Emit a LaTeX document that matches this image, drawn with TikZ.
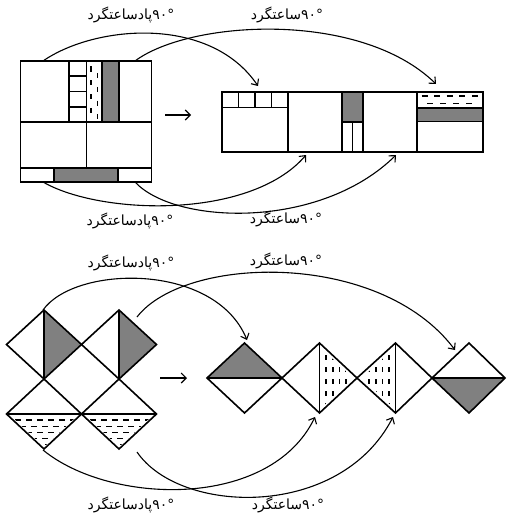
\documentclass[tikz,border=0pt]{standalone}
\usepackage{fontspec}
\usetikzlibrary{arrows.meta}
\newfontfamily\arabicfont[Script=Arabic]{DejaVu Sans}
\newfontfamily\numfont{DejaVu Sans}
\definecolor{greyfill}{RGB}{128,128,128}
\tikzset{
  fig/.style={line width=1.6pt, line join=miter},
  rot/.style={line width=1.1pt, -{Straight Barb[length=5pt,width=9pt,line width=1.1pt]}},
  maparrow/.style={line width=1.1pt, -{Straight Barb[length=5pt,width=10pt,line width=1.1pt]}},
  lbl/.style={inner sep=0pt, font=\fontsize{14}{16}\selectfont},
  vdash/.style={line width=1.6pt, dash pattern=on 5pt off 7pt},
  hdash/.style={line width=1.6pt, dash pattern=on 6pt off 5pt},
}
\begin{document}
\begin{tikzpicture}[x=1pt,y=-1pt]
\useasboundingbox (0,0) rectangle (506,519);

% ================= TOP SECTION =================
% left square
\fill[greyfill] (102,61) rectangle (119,122);
\fill[greyfill] (54,168) rectangle (118,182);
\draw[fig] (20.5,61) rectangle (151.5,182);
\draw[fig] (20.5,122) -- (151.5,122);
\draw[fig] (20.5,168) -- (151.5,168);
\foreach \x in {69,86.5,102,119} \draw[fig] (\x,61) -- (\x,122);
\foreach \y in {76,91.5,107} \draw[fig] (69,\y) -- (86.5,\y);
\draw[fig] (86.5,122) -- (86.5,168);
\draw[fig] (54,168) -- (54,182);
\draw[fig] (118,168) -- (118,182);
\draw[vdash, dash pattern=on 5pt off 8.8pt] (91,66.5) -- (91,118);
\draw[vdash, dash pattern=on 5pt off 8.8pt] (97.5,73) -- (97.5,119);

% right strip
\fill[greyfill] (342,92) rectangle (363,122);
\fill[greyfill] (417,108) rectangle (483,121.5);
\draw[fig] (222,92) rectangle (483,152);
\foreach \x in {288,342,363,417} \draw[fig] (\x,92) -- (\x,152);
\draw[fig] (222,107.5) -- (288,107.5);
\foreach \x in {238.5,255,271.5} \draw[fig] (\x,92) -- (\x,107.5);
\draw[fig] (342,122) -- (363,122);
\draw[fig] (352.5,122) -- (352.5,152);
\draw[fig] (417,108) -- (483,108);
\draw[fig] (417,121.5) -- (483,121.5);
\draw[hdash, dash pattern=on 6pt off 6.6pt] (421.5,96) -- (478,96);
\draw[hdash, dash pattern=on 6pt off 7pt] (427,103.3) -- (472,103.3);

% map arrow
\coordinate (ma1) at (165,115);
\coordinate (mb1) at (191,115);
\draw[maparrow] (ma1) -- (mb1);

% rotation arcs
\coordinate (s1) at (43,61);   \coordinate (e1) at (258,86);
\coordinate (s2) at (135,61);  \coordinate (e2) at (436,84);
\coordinate (s3) at (43,182);  \coordinate (e3) at (306,155);
\coordinate (s4) at (135,182); \coordinate (e4) at (396,155);
\draw[rot] (s1) .. controls (95,25) and (210,15) .. (e1);
\draw[rot] (s2) .. controls (190,20) and (360,10) .. (e2);
\draw[rot] (s3) .. controls (100,215) and (250,220) .. (e3);
\draw[rot] (s4) .. controls (175,225) and (320,230) .. (e4);

\node[lbl] (t1) at (131,15) {\arabicfont پادساعتگرد\numfont ۹۰°};
\node[lbl] (t2) at (287,15) {\arabicfont ساعتگرد\numfont ۹۰°};
\node[lbl] (t3) at (130,221) {\arabicfont پادساعتگرد\numfont ۹۰°};
\node[lbl] (t4) at (286,219) {\arabicfont ساعتگرد\numfont ۹۰°};

% ================= BOTTOM SECTION =================
% left 2x2 diamonds
\fill[greyfill] (44,310) -- (81.5,344.5) -- (44,379) -- cycle;
\fill[greyfill] (119,310) -- (156.5,344.5) -- (119,379) -- cycle;
\foreach \cx in {44,119}{
  \begin{scope}
    \clip (\cx-33,416) -- (\cx+33,416) -- (\cx,447) -- cycle;
    \draw[hdash] (\cx-40,420) -- (\cx+40,420);
    \draw[hdash, dash phase=6pt] (\cx-40,426.5) -- (\cx+40,426.5);
    \draw[hdash] (\cx-40,432.5) -- (\cx+40,432.5);
    \draw[hdash, dash phase=6pt] (\cx-40,438.5) -- (\cx+40,438.5);
    \draw[hdash, dash phase=3pt] (\cx-40,444.5) -- (\cx+40,444.5);
  \end{scope}
}
\foreach \cx in {44,119}{
  \draw[fig] (\cx-37.5,344.5) -- (\cx,310) -- (\cx+37.5,344.5) -- (\cx,379) -- cycle;
  \draw[fig] (\cx,310) -- (\cx,379);
  \draw[fig] (\cx-37.5,414) -- (\cx,379) -- (\cx+37.5,414) -- (\cx,449) -- cycle;
  \draw[fig] (\cx-37.5,414) -- (\cx+37.5,414);
}

% map arrow
\coordinate (ma2) at (160,378);
\coordinate (mb2) at (187,378);
\draw[maparrow] (ma2) -- (mb2);

% right row of diamonds
\fill[greyfill] (207,378) -- (244.5,343) -- (282,378) -- cycle;
\fill[greyfill] (432,378) -- (469,413) -- (505,378) -- cycle;
\begin{scope}
  \clip (321,348) -- (353,378) -- (321,408) -- cycle;
  \foreach \x in {326,332.7,339.3,346,352.7}
    \draw[vdash] (\x,343) -- (\x,413);
\end{scope}
\begin{scope}
  \clip (394,348) -- (362,378) -- (394,408) -- cycle;
  \foreach \x in {362.3,369,375.7,382.3,389}
    \draw[vdash] (\x,343) -- (\x,413);
\end{scope}
\draw[fig] (207,378) -- (244.5,343) -- (282,378) -- (244.5,413) -- cycle;
\draw[fig] (207,378) -- (282,378);
\draw[fig] (282,378) -- (319.5,343) -- (357,378) -- (319.5,413) -- cycle;
\draw[fig] (319.5,343) -- (319.5,413);
\draw[fig] (357,378) -- (395.5,343) -- (432,378) -- (395.5,413) -- cycle;
\draw[fig] (395.5,343) -- (395.5,413);
\draw[fig] (432,378) -- (469,343) -- (505,378) -- (469,413) -- cycle;
\draw[fig] (432,378) -- (505,378);

% rotation arcs
\coordinate (s5) at (43,310);  \coordinate (e5) at (247,340);
\coordinate (s6) at (137,317); \coordinate (e6) at (455,350);
\coordinate (s7) at (43,450);  \coordinate (e7) at (315,417);
\coordinate (s8) at (137,452); \coordinate (e8) at (393,417);
\draw[rot] (s5) .. controls (75,265) and (215,262) .. (e5);
\draw[rot] (s6) .. controls (185,255) and (380,250) .. (e6);
\draw[rot] (s7) .. controls (110,505) and (270,510) .. (e7);
\draw[rot] (s8) .. controls (180,515) and (340,520) .. (e8);

\node[lbl] (t5) at (131,263) {\arabicfont پادساعتگرد\numfont ۹۰°};
\node[lbl] (t6) at (286,261) {\arabicfont ساعتگرد\numfont ۹۰°};
\node[lbl] (t7) at (131,505) {\arabicfont پادساعتگرد\numfont ۹۰°};
\node[lbl] (t8) at (288,505) {\arabicfont ساعتگرد\numfont ۹۰°};
\end{tikzpicture}
\end{document}
